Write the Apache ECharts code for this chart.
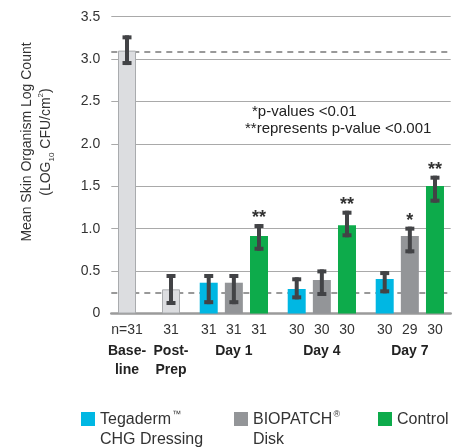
<!DOCTYPE html>
<html>
<head>
<meta charset="utf-8">
<script src="https://cdn.jsdelivr.net/npm/echarts@6/dist/echarts.min.js"></script>
<style>
html,body{margin:0;padding:0;background:#fff;}
#c{width:465px;height:448px;}
</style>
</head>
<body>
<div id="c"></div>
<script>
// ---- data ----
const groupLabels = ['Base-\nline', 'Post-\nPrep', 'Day 1', 'Day 4', 'Day 7'];
const groupSizes = [1, 1, 3, 3, 3];
const barKinds = ['pre', 'pre', 'teg', 'bio', 'ctl', 'teg', 'bio', 'ctl', 'teg', 'bio', 'ctl'];
const nLabels = ['n=31', '31', '31', '31', '31', '30', '30', '30', '30', '29', '30'];
const means = [3.10, 0.285, 0.363, 0.363, 0.914, 0.289, 0.395, 1.04, 0.407, 0.914, 1.504];
const errHigh = [3.28, 0.466, 0.466, 0.466, 1.055, 0.427, 0.52, 1.212, 0.50, 1.024, 1.625];
const errLow = [2.93, 0.10, 0.11, 0.11, 0.74, 0.167, 0.206, 0.899, 0.238, 0.71, 1.307];
const stars = ['', '', '', '', '**', '', '', '**', '', '*', '**'];
const refLines = [3.09, 0.245];
const yTicks = { min: 0, max: 3.5, interval: 0.5 };
const legendNames = ['Tegaderm\u2122\nCHG Dressing', 'BIOPATCH\u00ae\nDisk', 'Control'];
const legendKinds = ['teg', 'bio', 'ctl'];
const notes = ['*p-values <0.01', '**represents p-value <0.001'];

// ---- styles ----
const colors = { pre: '#dcdde0', teg: '#00b7e3', bio: '#939598', ctl: '#0dab4b' };
const FONT = 'Liberation Sans';
const TXT = '#333333';

// ---- slot layout (category axis with spacer slots) ----
const leadPad = 2, trailPad = 2;
const gapAfterGroup = [7, 6, 6, 6];
const withinStep = 4;
const barSlot = [];
const slotLabel = {};
let s = leadPad, bi = 0;
groupSizes.forEach((sz, g) => {
  for (let k = 0; k < sz; k++) {
    barSlot.push(s);
    const mid = Math.floor(sz / 2) === k;
    let lbl = '{n|' + nLabels[bi] + '}';
    if (mid) lbl += '\n' + groupLabels[g].split('\n').map(t => '{g|' + t + '}').join('\n');
    slotLabel[s] = lbl;
    bi++;
    if (k < sz - 1) s += withinStep;
  }
  if (g < groupSizes.length - 1) s += gapAfterGroup[g];
});
const nSlots = s + 1 + trailPad;
const cats = Array.from({ length: nSlots }, (_, i) => 's' + i);

const barData = means.map((v, i) => ({
  value: [barSlot[i], v],
  itemStyle: {
    color: colors[barKinds[i]],
    borderColor: barKinds[i] === 'pre' ? '#a9abae' : null,
    borderWidth: barKinds[i] === 'pre' ? 1 : 0
  }
}));
const errData = means.map((v, i) => [barSlot[i], errLow[i], errHigh[i], stars[i]]);

const chart = echarts.init(document.getElementById('c'), null, { renderer: 'canvas' });

// legend text -> rich text with small superscript marks (every first line gets a mark token)
function richLegend(nm) {
  return nm.split('\n').map((line, li) => {
    let r = line.replace(/([^\u2122\u00ae]+)|([\u2122\u00ae])/g, (m, t, mk) => t ? '{t|' + t + '}' : '{m|' + mk + '}');
    if (li === 0 && r.indexOf('{m|') < 0) r += '{m| }';
    return r;
  }).join('\n');
}
const legendX = [81, 234, 378];
const graphics = [];
legendNames.forEach((nm, i) => {
  graphics.push({ type: 'rect', left: legendX[i], top: 412, shape: { width: 14, height: 14 }, style: { fill: colors[legendKinds[i]] } });
  graphics.push({
    type: 'text', left: legendX[i] + 19, top: 410,
    style: {
      text: richLegend(nm), fill: TXT,
      rich: {
        t: { fontSize: 16, fontFamily: FONT, fill: TXT, lineHeight: 20 },
        m: { fontSize: 9, fontFamily: FONT, fill: TXT, lineHeight: 20, verticalAlign: 'top', padding: [0, 0, 0, 1] }
      }
    }
  });
});
graphics.push({ type: 'text', left: 252, top: 104, style: { text: notes[0], font: '15px "' + FONT + '"', fill: '#222' } });
graphics.push({ type: 'text', left: 245, top: 121, style: { text: notes[1], font: '15px "' + FONT + '"', fill: '#222' } });
graphics.push({
  type: 'text', x: 37, y: 142, rotation: Math.PI / 2,
  style: {
    text: '{a|Mean Skin Organism Log Count}\n{a|(LOG}{sub|10}{a| CFU/cm}{sup|2}{a|)}',
    align: 'center', verticalAlign: 'middle', fill: TXT,
    rich: {
      a: { fontSize: 14, fontFamily: FONT, fill: TXT, lineHeight: 19 },
      sub: { fontSize: 8, fontFamily: FONT, fill: TXT, lineHeight: 19, verticalAlign: 'bottom', padding: [6, 0, 0, 0] },
      sup: { fontSize: 8, fontFamily: FONT, fill: TXT, lineHeight: 19, verticalAlign: 'top', padding: [0, 0, 6, 0] }
    }
  }
});

chart.setOption({
  animation: false,
  grid: { left: 111.3, right: 14.3, top: 16.7, bottom: 134.5, containLabel: false },
  xAxis: {
    type: 'category', data: cats, boundaryGap: true,
    axisLine: { show: true, lineStyle: { color: '#9b9b9b', width: 2.5 } },
    axisTick: { show: false },
    splitLine: { show: false },
    axisLabel: {
      interval: 0, margin: 6,
      formatter: (v, idx) => slotLabel[idx] || '',
      rich: {
        n: { fontSize: 14, fontFamily: FONT, color: TXT, lineHeight: 22 },
        g: { fontSize: 14, fontFamily: FONT, color: '#222', fontWeight: 'bold', lineHeight: 19 }
      }
    }
  },
  yAxis: {
    type: 'value', min: yTicks.min, max: yTicks.max, interval: yTicks.interval,
    axisLine: { show: false }, axisTick: { show: false },
    splitLine: { show: true, lineStyle: { color: '#a9a9a9', width: 1 } },
    axisLabel: {
      margin: 11, fontSize: 14, fontFamily: FONT, color: TXT,
      formatter: v => (v === 0 ? '0' : v.toFixed(1))
    }
  },
  series: [
    {
      type: 'line', data: [], z: 1, silent: true,
      markLine: {
        z: 1, silent: true, symbol: 'none', label: { show: false },
        lineStyle: { type: [6, 5], color: '#999999', width: 2 },
        data: refLines.map(v => ({ yAxis: v }))
      }
    },
    { type: 'bar', data: barData, barWidth: 18, z: 3 },
    {
      type: 'custom', data: errData, z: 4,
      encode: { x: 0, y: [1, 2] },
      renderItem: (params, api) => {
        const x = api.coord([api.value(0), 0])[0];
        const yH = api.coord([api.value(0), api.value(2)])[1];
        const yL = api.coord([api.value(0), api.value(1)])[1];
        const c = '#424346';
        const star = errData[params.dataIndex][3];
        const ch = [
          { type: 'rect', shape: { x: x - 2, y: yH, width: 4, height: yL - yH }, style: { fill: c } },
          { type: 'rect', shape: { x: x - 4.5, y: yH, width: 9, height: 4 }, style: { fill: c } },
          { type: 'rect', shape: { x: x - 4.5, y: yL - 4, width: 9, height: 4 }, style: { fill: c } }
        ];
        if (star) ch.push({ type: 'text', style: { text: star, x: x, y: yH + 3, align: 'center', verticalAlign: 'bottom', font: 'bold 18px "' + FONT + '"', fill: '#333' } });
        return { type: 'group', children: ch };
      }
    }
  ],
  graphic: graphics
});
</script>
</body>
</html>
